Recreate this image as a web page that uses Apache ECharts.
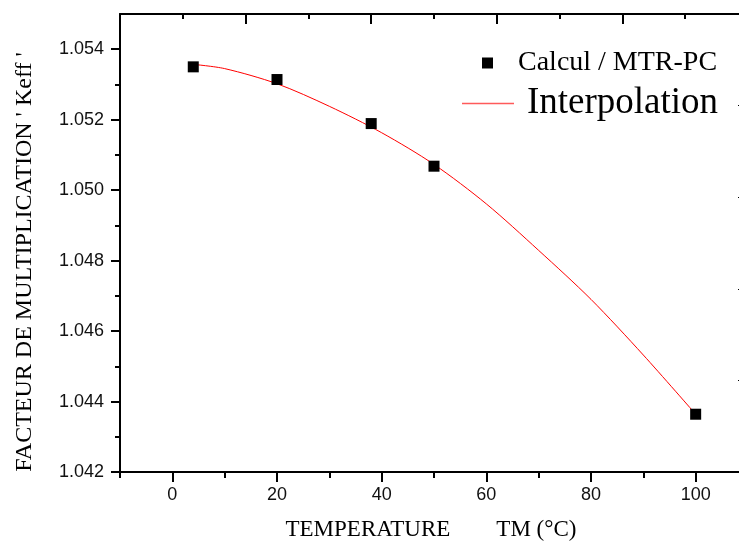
<!DOCTYPE html>
<html>
<head>
<meta charset="utf-8">
<script src="https://cdn.jsdelivr.net/npm/echarts@6/dist/echarts.min.js"></script>
<style>html,body{margin:0;padding:0;background:#fff}#c{width:739px;height:542px}</style>
</head>
<body>
<div id="c"></div>
<script>
// Calculated points (Calcul / MTR-PC)
const calcTemp = [4, 20, 38, 50, 100];
const calcKeff = [1.05350, 1.05314, 1.05189, 1.05068, 1.04364];
// Interpolation curve
const interpTemp = [4, 10, 20, 30, 40, 50, 60, 70, 80, 90, 100];
const interpKeff = [1.05357, 1.05345, 1.05302, 1.05238, 1.05163, 1.05073, 1.04961, 1.04829, 1.04690, 1.04532, 1.04364];
// Tick labels
const xMajorTicks = [0, 20, 40, 60, 80, 100];
const xMinorTicks = [-10, 10, 30, 50, 70, 90, 110];
const yMajorTicks = [1.042, 1.044, 1.046, 1.048, 1.050, 1.052, 1.054];
const yMinorTicks = [1.043, 1.045, 1.047, 1.049, 1.051, 1.053];

const serif = 'Liberation Serif';
const sans = 'Liberation Sans';
const axisLine = {show: true, onZero: false, lineStyle: {color: '#000', width: 2}};

const chart = echarts.init(document.getElementById('c'));
chart.setOption({
  backgroundColor: '#fff',
  animation: false,
  grid: {left: 120, width: 628, top: 14, height: 458, containLabel: false, outerBoundsMode: 'none'},
  legend: [
    {
      data: ['Calcul / MTR-PC'], left: 477, top: 44, itemWidth: 11, itemHeight: 11,
      itemStyle: {color: '#000', opacity: 1},
      textStyle: {fontFamily: serif, fontSize: 28, color: '#000', padding: [0, 0, 6, 20]}
    },
    {
      data: [{name: 'Interpolation', icon: 'rect'}], left: 457, top: 80, itemWidth: 52, itemHeight: 1.5,
      itemStyle: {color: '#ff5a5a'},
      textStyle: {fontFamily: serif, fontSize: 37, color: '#000', padding: [0, 0, 18, 8]}
    }
  ],
  xAxis: [
    {
      type: 'value', min: -10, max: 110, position: 'bottom',
      axisLine: axisLine,
      axisTick: {show: true, customValues: xMajorTicks, length: 10, lineStyle: {color: '#000', width: 2}},
      axisLabel: {customValues: xMajorTicks, margin: 14, fontFamily: sans, fontSize: 18, color: '#111'},
      splitLine: {show: false},
      name: 'TEMPERATURE        TM (°C)', nameLocation: 'middle', nameGap: 46,
      nameTextStyle: {fontFamily: serif, fontSize: 23, color: '#000', padding: [0, 6, 0, 0]}
    },
    {
      type: 'value', min: -10, max: 110, position: 'bottom',
      axisLine: {show: false, onZero: false},
      axisTick: {show: true, customValues: xMinorTicks, length: 6, lineStyle: {color: '#000', width: 2}},
      axisLabel: {show: false}, splitLine: {show: false}
    },
    {
      type: 'value', min: -10, max: 110, interval: 24, position: 'top',
      axisLine: axisLine,
      axisTick: {show: true, inside: true, length: 10, lineStyle: {color: '#000', width: 2}},
      minorTick: {show: true, splitNumber: 2, length: 5, lineStyle: {color: '#000', width: 2}},
      axisLabel: {show: false}, splitLine: {show: false}, minorSplitLine: {show: false}
    }
  ],
  yAxis: [
    {
      type: 'value', min: 1.042, max: 1.055, position: 'left',
      axisLine: axisLine,
      axisTick: {show: true, customValues: yMajorTicks, length: 9, lineStyle: {color: '#000', width: 2}},
      axisLabel: {customValues: yMajorTicks, margin: 16, fontFamily: sans, fontSize: 18, color: '#111',
        formatter: v => v.toFixed(3)},
      splitLine: {show: false},
      name: "FACTEUR DE MULTIPLICATION ' Keff '", nameLocation: 'middle', nameRotate: 90, nameGap: 83,
      nameTextStyle: {fontFamily: serif, fontSize: 24, color: '#000', padding: [0, 38, 0, 0]}
    },
    {
      type: 'value', min: 1.042, max: 1.055, position: 'left',
      axisLine: {show: false, onZero: false},
      axisTick: {show: true, customValues: yMinorTicks, length: 5, lineStyle: {color: '#000', width: 2}},
      axisLabel: {show: false}, splitLine: {show: false}
    },
    {
      type: 'value', min: 0, max: 5, interval: 1, position: 'right',
      axisLine: axisLine,
      axisTick: {show: true, inside: true, length: 10, lineStyle: {color: '#000', width: 1}},
      axisLabel: {show: false}, splitLine: {show: false}
    }
  ],
  series: [
    {
      name: 'Interpolation', type: 'line', xAxisIndex: 0, yAxisIndex: 0,
      data: interpTemp.map((t, i) => [t, interpKeff[i]]),
      smooth: 0.3, symbol: 'none',
      lineStyle: {color: '#ff0000', width: 1}, itemStyle: {color: '#ff5a5a'}, z: 2
    },
    {
      name: 'Calcul / MTR-PC', type: 'scatter', xAxisIndex: 0, yAxisIndex: 0,
      data: calcTemp.map((t, i) => [t, calcKeff[i]]),
      symbol: 'rect', symbolSize: 11,
      itemStyle: {color: '#000', opacity: 1}, z: 3
    }
  ]
});
</script>
</body>
</html>
